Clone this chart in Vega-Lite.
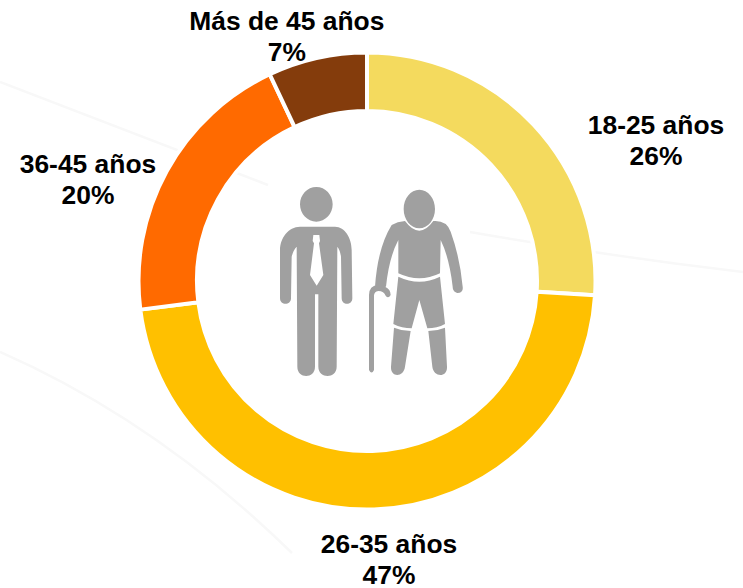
{"$schema":"https://vega.github.io/schema/vega-lite/v6.json","width":734,"height":562,"autosize":{"type":"none"},"padding":{"left":0,"top":0,"right":9,"bottom":26},"background":"#ffffff","config":{"view":{"stroke":null}},
"data":{"values":[{"grupo":"18-25 años","valor":26,"etiqueta":"18-25 años\n26%"},{"grupo":"26-35 años","valor":47,"etiqueta":"26-35 años\n47%"},{"grupo":"36-45 años","valor":20,"etiqueta":"36-45 años\n20%"},{"grupo":"Más de 45 años","valor":7,"etiqueta":"Más de 45 años\n7%"}]},
"transform":[{"stack":"valor","sort":[{"field":"grupo","order":"ascending"}],"as":["a0","a1"]}],
"layer":[
{"data":{"values":[{"capa":"fondo"}]},"mark":{"type":"point","filled":false,"stroke":"#f8f8f8","strokeWidth":2.5,"opacity":1,"size":4,"shape":"M-367,-199L-99,-96M103,-49Q240,-25 376,-9M-367,71Q-210,140 -75,272"},"encoding":{}},
{"mark":{"type":"arc","radius":228.5,"radius2":170,"stroke":"#ffffff","strokeWidth":4},"encoding":{"theta":{"field":"a0","type":"quantitative","scale":{"domain":[0,100]}},"theta2":{"field":"a1"},"color":{"field":"grupo","type":"nominal","legend":null,"scale":{"domain":["18-25 años","26-35 años","36-45 años","Más de 45 años"],"range":["#F4DA5E","#FFC000","#FF6A00","#843C0C"]}}}},
{"data":{"values":[{"capa":"icono"}]},"mark":{"type":"point","filled":true,"fill":"#a0a0a0","stroke":null,"opacity":1,"size":0.4444,"shape":"M-201,-230a49,52 0 1,0 98,0a49,52 0 1,0 -98,0ZM-201,-163L-96,-163C-66,-163 -46,-128 -46,-93L-44,52C-44,74 -76,74 -76,52L-78,-73Q-81,-93 -89,-103L-91,257C-91,294 -146,294 -146,257L-146,40L-156,40L-156,257C-156,294 -209,294 -209,257L-211,-103Q-221,-93 -226,-73L-228,52C-228,74 -261,74 -261,52L-261,-93C-261,-128 -236,-163 -201,-163ZM110,-216a47,58 0 1,0 94,0a47,58 0 1,0 -94,0ZM114,-180Q157,-122 199,-180Q239,-183 251,-148Q279,-70 287,17C291,42 257,42 257,17Q247,-70 221,-123L219,-23Q157,7 94,-23L94,-123Q66,-70 57,17L24,17Q32,-100 74,-168Q91,-178 114,-180ZM6,42Q6,14 34,12L54,17Q71,24 71,42Q64,54 56,44Q51,30 34,30Q21,32 21,44L21,267Q14,282 6,267ZM94,-13Q157,17 219,-13L234,129Q210,142 181,142L157,57L134,142Q105,142 79,129ZM81,140Q105,150 131,150L114,257C110,290 70,290 72,257ZM184,150Q210,150 234,140L240,257C242,290 200,290 196,257Z"},"encoding":{}},
{"data":{"values":[{"capa":"corbata"}]},"mark":{"type":"point","filled":true,"fill":"#ffffff","stroke":null,"opacity":1,"size":0.4444,"shape":"M-161,-138L-143,-138L-141,-120L-144,-113L-131,-18L-151,14L-171,-18L-159,-113L-163,-120Z"},"encoding":{}},
{"transform":[{"filter":"datum.grupo==='18-25 años'"}],"mark":{"type":"text","radius":200,"dx":289,"dy":45,"font":"Liberation Sans","fontWeight":"bold","fontSize":26.4,"lineHeight":31,"lineBreak":"\n","align":"center","baseline":"middle","color":"#000000"},"encoding":{"theta":{"field":"a0","type":"quantitative"},"text":{"field":"etiqueta"}}},
{"transform":[{"filter":"datum.grupo==='26-35 años'"}],"mark":{"type":"text","radius":200,"dx":-177.6,"dy":251,"font":"Liberation Sans","fontWeight":"bold","fontSize":26.4,"lineHeight":31,"lineBreak":"\n","align":"center","baseline":"middle","color":"#000000"},"encoding":{"theta":{"field":"a0","type":"quantitative"},"text":{"field":"etiqueta"}}},
{"transform":[{"filter":"datum.grupo==='36-45 años'"}],"mark":{"type":"text","radius":200,"dx":-80.6,"dy":-141,"font":"Liberation Sans","fontWeight":"bold","fontSize":26.4,"lineHeight":31,"lineBreak":"\n","align":"center","baseline":"middle","color":"#000000"},"encoding":{"theta":{"field":"a0","type":"quantitative"},"text":{"field":"etiqueta"}}},
{"transform":[{"filter":"datum.grupo==='Más de 45 años'"}],"mark":{"type":"text","radius":200,"dx":5,"dy":-78,"font":"Liberation Sans","fontWeight":"bold","fontSize":26.4,"lineHeight":31,"lineBreak":"\n","align":"center","baseline":"middle","color":"#000000"},"encoding":{"theta":{"field":"a0","type":"quantitative"},"text":{"field":"etiqueta"}}}
]}
